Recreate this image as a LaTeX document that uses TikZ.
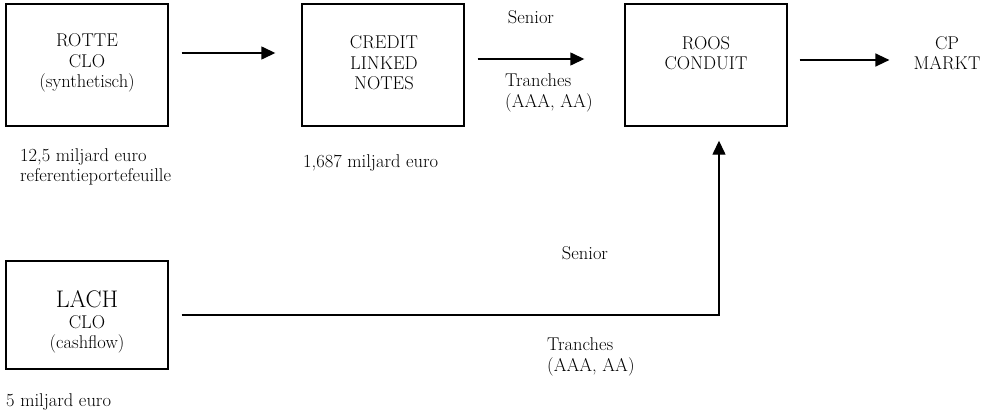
\documentclass[tikz,border=0pt]{standalone}
\usepackage{fontspec}
\usetikzlibrary{arrows.meta}
\begin{document}
\begin{tikzpicture}[x=1pt,y=-1pt,
  box/.style={draw,line width=1.4pt,minimum width=162pt,inner sep=0pt},
  txt/.style={inner sep=0pt,align=center,font=\fontsize{18.5}{20.5}\selectfont},
  ltxt/.style={inner sep=0pt,align=left,anchor=west,font=\fontsize{18.5}{20.5}\selectfont},
  arr/.style={line width=1.4pt,-{Triangle[length=14pt,width=13pt]}}]
\useasboundingbox (0,0) rectangle (989,413);
% boxes
\node[box,minimum height=122pt] (rotte) at (87,65) {};
\node[box,minimum height=122pt] (credit) at (383,65) {};
\node[box,minimum height=122pt] (roos) at (706,65) {};
\node[box,minimum height=108pt] (lach) at (87,315) {};
% box texts
\node[txt] (rottetxt) at (87,63) {ROTTE\\CLO\\(synthetisch)};
\node[txt] (credittxt) at (384,63) {CREDIT\\LINKED\\NOTES};
\node[txt] (roostxt) at (706,53) {ROOS\\CONDUIT};
\node[txt] (cp) at (947,53) {CP\\MARKT};
\node[txt] (lachtxt) at (87,322) {{\fontsize{24}{24}\selectfont LACH}\\CLO\\(cashflow)};
% annotations
\node[txt] (senior1) at (531,17) {Senior};
\node[ltxt] (tranches1) at (505,93) {Tranches\\ (AAA, AA)};
\node[txt] (senior2) at (585,253) {Senior};
\node[ltxt] (tranches2) at (547,357) {Tranches\\(AAA, AA)};
\node[ltxt] (rottesize) at (20,167) {12,5 miljard euro\\referentieportefeuille};
\node[ltxt] (creditsize) at (303,163) {1,687 miljard euro};
\node[ltxt] (lachsize) at (6,402) {5 miljard euro};
% connectors
\draw[arr,shorten <=13pt,shorten >=26pt] ([yshift=12pt]rotte.east) -- ([yshift=12pt]credit.west);
\draw[arr,shorten <=13pt,shorten >=40pt] ([yshift=6pt]credit.east) -- ([yshift=6pt]roos.west);
\draw[arr,shorten <=12pt,shorten >=24pt] ([yshift=5pt]roos.east) -- ([yshift=5pt]roos.east -| cp.west);
\draw[arr,shorten <=13pt,shorten >=14pt] (lach.east) -- ([xshift=13pt]roos.south |- lach.east) -- ([xshift=13pt]roos.south);
\end{tikzpicture}
\end{document}
